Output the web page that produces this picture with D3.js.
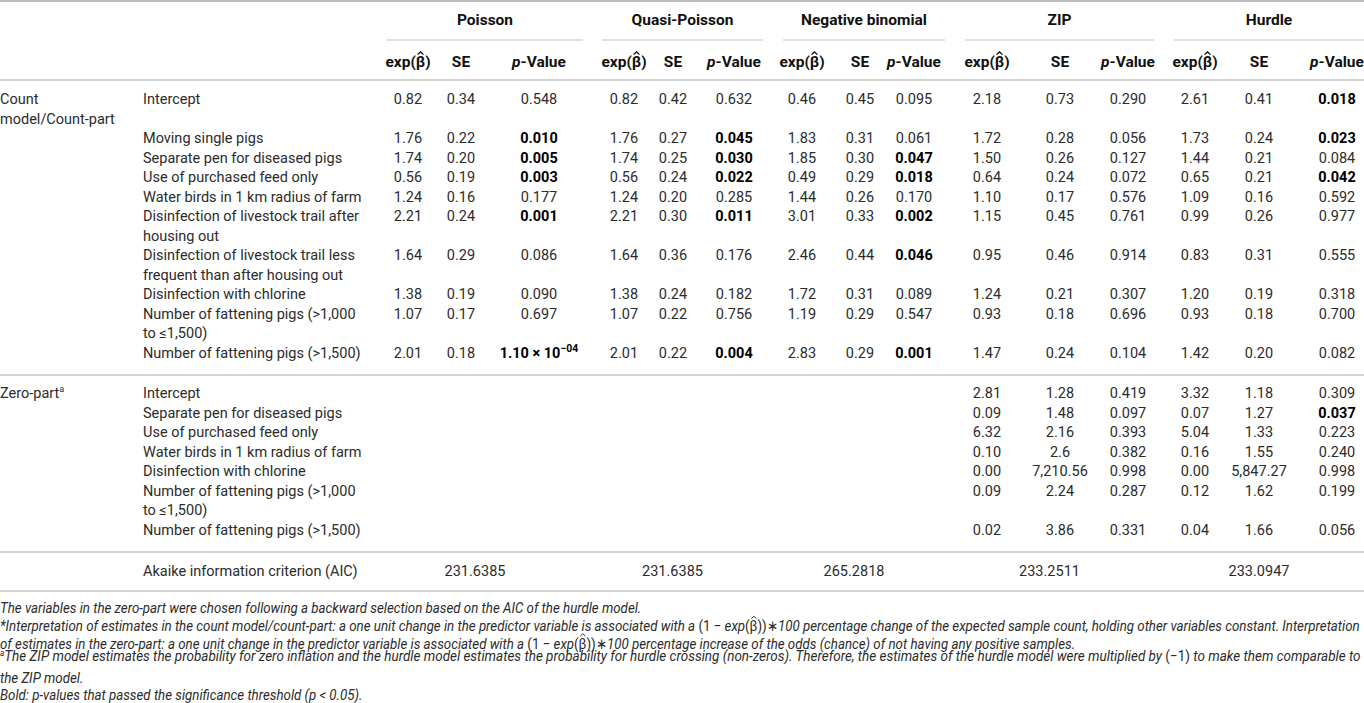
<!DOCTYPE html>
<html>
<head>
<meta charset="utf-8">
<script src="https://cdn.jsdelivr.net/npm/d3@7"></script>
<style>
  body { margin: 0; background: #fff; }
  svg { display: block; font-family: Roboto, "Liberation Sans", sans-serif; }
</style>
</head>
<body>
<div class="canvas"></div>
<script>
// ---- data ----
const models = ["Poisson", "Quasi-Poisson", "Negative binomial", "ZIP", "Hurdle"];
const statHeads = ["exp", "SE", "p-Value"];

// "|" marks a line break in the label
const countVars = [
  "Intercept",
  "Moving single pigs",
  "Separate pen for diseased pigs",
  "Use of purchased feed only",
  "Water birds in 1 km radius of farm",
  "Disinfection of livestock trail after|housing out",
  "Disinfection of livestock trail less|frequent than after housing out",
  "Disinfection with chlorine",
  "Number of fattening pigs (>1,000|to ≤1,500)",
  "Number of fattening pigs (>1,500)"
];

// [exp(beta), SE, p]
const countPoisson = [
  ["0.82", "0.34", "0.548"], ["1.76", "0.22", "0.010"], ["1.74", "0.20", "0.005"],
  ["0.56", "0.19", "0.003"], ["1.24", "0.16", "0.177"], ["2.21", "0.24", "0.001"],
  ["1.64", "0.29", "0.086"], ["1.38", "0.19", "0.090"], ["1.07", "0.17", "0.697"],
  ["2.01", "0.18", "1.10e-04"]
];
const countQuasi = [
  ["0.82", "0.42", "0.632"], ["1.76", "0.27", "0.045"], ["1.74", "0.25", "0.030"],
  ["0.56", "0.24", "0.022"], ["1.24", "0.20", "0.285"], ["2.21", "0.30", "0.011"],
  ["1.64", "0.36", "0.176"], ["1.38", "0.24", "0.182"], ["1.07", "0.22", "0.756"],
  ["2.01", "0.22", "0.004"]
];
const countNB = [
  ["0.46", "0.45", "0.095"], ["1.83", "0.31", "0.061"], ["1.85", "0.30", "0.047"],
  ["0.49", "0.29", "0.018"], ["1.44", "0.26", "0.170"], ["3.01", "0.33", "0.002"],
  ["2.46", "0.44", "0.046"], ["1.72", "0.31", "0.089"], ["1.19", "0.29", "0.547"],
  ["2.83", "0.29", "0.001"]
];
const countZIP = [
  ["2.18", "0.73", "0.290"], ["1.72", "0.28", "0.056"], ["1.50", "0.26", "0.127"],
  ["0.64", "0.24", "0.072"], ["1.10", "0.17", "0.576"], ["1.15", "0.45", "0.761"],
  ["0.95", "0.46", "0.914"], ["1.24", "0.21", "0.307"], ["0.93", "0.18", "0.696"],
  ["1.47", "0.24", "0.104"]
];
const countHurdle = [
  ["2.61", "0.41", "0.018"], ["1.73", "0.24", "0.023"], ["1.44", "0.21", "0.084"],
  ["0.65", "0.21", "0.042"], ["1.09", "0.16", "0.592"], ["0.99", "0.26", "0.977"],
  ["0.83", "0.31", "0.555"], ["1.20", "0.19", "0.318"], ["0.93", "0.18", "0.700"],
  ["1.42", "0.20", "0.082"]
];

const zeroVars = [
  "Intercept",
  "Separate pen for diseased pigs",
  "Use of purchased feed only",
  "Water birds in 1 km radius of farm",
  "Disinfection with chlorine",
  "Number of fattening pigs (>1,000|to ≤1,500)",
  "Number of fattening pigs (>1,500)"
];
const zeroZIP = [
  ["2.81", "1.28", "0.419"], ["0.09", "1.48", "0.097"], ["6.32", "2.16", "0.393"],
  ["0.10", "2.6", "0.382"], ["0.00", "7,210.56", "0.998"], ["0.09", "2.24", "0.287"],
  ["0.02", "3.86", "0.331"]
];
const zeroHurdle = [
  ["3.32", "1.18", "0.309"], ["0.07", "1.27", "0.037"], ["5.04", "1.33", "0.223"],
  ["0.16", "1.55", "0.240"], ["0.00", "5,847.27", "0.998"], ["0.12", "1.62", "0.199"],
  ["0.04", "1.66", "0.056"]
];

const aicValues = ["231.6385", "231.6385", "265.2818", "233.2511", "233.0947"];

// ---- layout ----
const width = 1364, height = 703;
const textCol = "#2b2b2b";
const fs = 14.5;
const lineH = 19.5;

const svg = d3.select(".canvas")
  .append("svg")
  .attr("width", width)
  .attr("height", height);

// group spans (header rules) and column centres
const groupX = d3.scaleOrdinal().domain(models)
  .range([[387, 583], [602, 763], [783, 945], [965, 1154], [1174, 1364]]);
const colX = d3.scaleOrdinal().domain(models)
  .range([[408, 461, 539], [624, 673, 734], [802, 860, 914], [987, 1060, 1128], [1195, 1259, 1337]]);

const varX = 143;

function rule(y, x1, x2, w, c) {
  svg.append("line")
    .attr("x1", x1).attr("x2", x2).attr("y1", y).attr("y2", y)
    .attr("stroke", c).attr("stroke-width", w);
}

// small circumflex above a character, cx = centre, top = its top edge
function hatMark(parent, cx, top, w, col, sw) {
  parent.append("path")
    .attr("d", `M${cx - w / 2},${top + w * 0.45}L${cx},${top}L${cx + w / 2},${top + w * 0.45}`)
    .attr("fill", "none").attr("stroke", col).attr("stroke-width", sw);
}

// rules
rule(1, 0, width, 2, "#bdbdbd");
models.forEach(m => rule(40, groupX(m)[0], groupX(m)[1], 1.2, "#c4c4c4"));
rule(80, 0, width, 2.2, "#d4d4d4");
rule(375, 0, width, 2.2, "#d4d4d4");
rule(552, 0, width, 2.2, "#d4d4d4");
rule(591, 0, width, 2.2, "#d4d4d4");

// group headings
svg.selectAll("text.model")
  .data(models)
  .enter().append("text")
  .attr("class", "model")
  .attr("x", d => (groupX(d)[0] + groupX(d)[1]) / 2)
  .attr("y", 20).attr("dy", "0.35em")
  .attr("text-anchor", "middle")
  .attr("font-size", 15.5).attr("font-weight", "bold").attr("fill", "#111")
  .text(d => d);

// column headings
models.forEach(m => {
  statHeads.forEach((h, i) => {
    const t = svg.append("text")
      .attr("x", colX(m)[i]).attr("y", 62).attr("dy", "0.35em")
      .attr("text-anchor", "middle")
      .attr("font-size", 15.5).attr("font-weight", "bold").attr("fill", "#111");
    if (h === "exp") {
      t.text("exp(β)");
      const a = t.node().getStartPositionOfChar(4), b = t.node().getEndPositionOfChar(4);
      hatMark(svg, (a.x + b.x) / 2, a.y - 15.5, 6, "#111", 1.3);
    } else if (h === "p-Value") {
      t.append("tspan").attr("font-style", "italic").text("p");
      t.append("tspan").text("-Value");
    } else {
      t.text(h);
    }
  });
});

// a section of rows
function section(vars, series, y0, sectionLabel) {
  const y = d3.scaleLinear().domain([0, 1]).range([y0, y0 + lineH]);
  // line index at which each variable starts
  let idx = 0;
  const starts = vars.map((v, i) => {
    const s = idx;
    let n = v.split("|").length;
    if (i === 0 && sectionLabel.length > 1) n = Math.max(n, sectionLabel.length);
    idx += n;
    return s;
  });

  // section label
  sectionLabel.forEach((l, i) => {
    const t = svg.append("text")
      .attr("x", 0).attr("y", y(i)).attr("dy", "0.35em")
      .attr("font-size", fs).attr("fill", textCol);
    if (l.endsWith("^a")) {
      t.append("tspan").text(l.slice(0, -2));
      t.append("tspan").attr("font-size", 9).attr("dy", -6).text("a");
    } else {
      t.text(l);
    }
  });

  // variable names
  vars.forEach((v, i) => {
    v.split("|").forEach((part, k) => {
      svg.append("text")
        .attr("x", varX).attr("y", y(starts[i] + k)).attr("dy", "0.35em")
        .attr("font-size", fs).attr("fill", textCol)
        .text(part);
    });
  });

  // values
  series.forEach(s => {
    const xs = colX(s.model);
    s.rows.forEach((row, i) => {
      row.forEach((val, j) => {
        const t = svg.append("text")
          .attr("x", xs[j]).attr("y", y(starts[i])).attr("dy", "0.35em")
          .attr("text-anchor", "middle")
          .attr("font-size", fs);
        const sig = j === 2 && parseFloat(val) < 0.05;
        t.attr("fill", sig ? "#000" : textCol)
          .attr("font-weight", sig ? "bold" : null);
        if (val.includes("e-")) {
          const [m, e] = val.split("e-");
          t.append("tspan").text(m + " × 10");
          t.append("tspan").attr("font-size", 10.5).attr("dy", -6).text("−" + e);
        } else {
          t.text(val);
        }
      });
    });
  });
}

section(countVars, [
  { model: "Poisson", rows: countPoisson },
  { model: "Quasi-Poisson", rows: countQuasi },
  { model: "Negative binomial", rows: countNB },
  { model: "ZIP", rows: countZIP },
  { model: "Hurdle", rows: countHurdle }
], 99, ["Count", "model/Count-part"]);

section(zeroVars, [
  { model: "ZIP", rows: zeroZIP },
  { model: "Hurdle", rows: zeroHurdle }
], 393, ["Zero-part^a"]);

// AIC row
svg.append("text")
  .attr("x", varX).attr("y", 571).attr("dy", "0.35em")
  .attr("font-size", fs).attr("fill", textCol)
  .text("Akaike information criterion (AIC)");
svg.selectAll("text.aic")
  .data(aicValues)
  .enter().append("text")
  .attr("class", "aic")
  .attr("x", (d, i) => (groupX(models[i])[0] + groupX(models[i])[1]) / 2 - 10)
  .attr("y", 571).attr("dy", "0.35em")
  .attr("text-anchor", "middle")
  .attr("font-size", fs).attr("fill", textCol)
  .text(d => d);

// footnotes
const notes = svg.append("g")
  .attr("font-size", 15).attr("font-style", "italic")
  .attr("fill", textCol);

const mathBit = [
  { t: "(1 − ", up: true }, { t: "exp" }, { t: "(β))∗", up: true }, { t: "100" }
];

const noteLines = [
  { y: 608, parts: [{ t: "The variables in the zero-part were chosen following a backward selection based on the AIC of the hurdle model." }] },
  { y: 626, fit: 1362, parts: [{ t: "*Interpretation of estimates in the count model/count-part: a one unit change in the predictor variable is associated with a " },
    ...mathBit,
    { t: " percentage change of the expected sample count, holding other variables constant. Interpretation" }] },
  { y: 643.5, parts: [{ t: "of estimates in the zero-part: a one unit change in the predictor variable is associated with a " },
    ...mathBit,
    { t: " percentage increase of the odds (chance) of not having any positive samples." }] },
  { y: 661, fit: 1362, parts: [{ t: "a", sup: true },
    { t: "The ZIP model estimates the probability for zero inflation and the hurdle model estimates the probability for hurdle crossing (non-zeros). Therefore, the estimates of the hurdle model were multiplied by ", back: true },
    { t: "(−1)", up: true }, { t: " to make them comparable to" }] },
  { y: 678, parts: [{ t: "the ZIP model." }] },
  { y: 695, parts: [{ t: "Bold: " }, { t: "p" }, { t: "-values that passed the significance threshold (" }, { t: "p" }, { t: " < 0.05)." }] }
];

// build the lines, then squeeze them sideways all by the same amount
const built = noteLines.map(n => {
  const t = notes.append("text").attr("x", 0).attr("y", n.y).attr("dy", "0.35em");
  n.parts.forEach(p => {
    const s = t.append("tspan").text(p.t);
    if (p.up) s.attr("font-style", "normal");
    if (p.sup) s.attr("font-size", 9).attr("dy", -5);
    if (p.back) s.attr("dy", 5);
  });
  return { t, n, len: t.node().getComputedTextLength() };
});
const kRef = built[1].n.fit / built[1].len;
built.forEach(({ t, n, len }) => {
  const k = n.fit ? n.fit / len : kRef;
  t.attr("transform", `scale(${k},1)`);
  const str = t.text();
  for (let i = 0; i < str.length; i++) {
    if (str[i] === "β") {
      const a = t.node().getStartPositionOfChar(i), b = t.node().getEndPositionOfChar(i);
      hatMark(notes, ((a.x + b.x) / 2) * k + 0.3, a.y - 15, 5, textCol, 1);
    }
  }
});
</script>
</body>
</html>
